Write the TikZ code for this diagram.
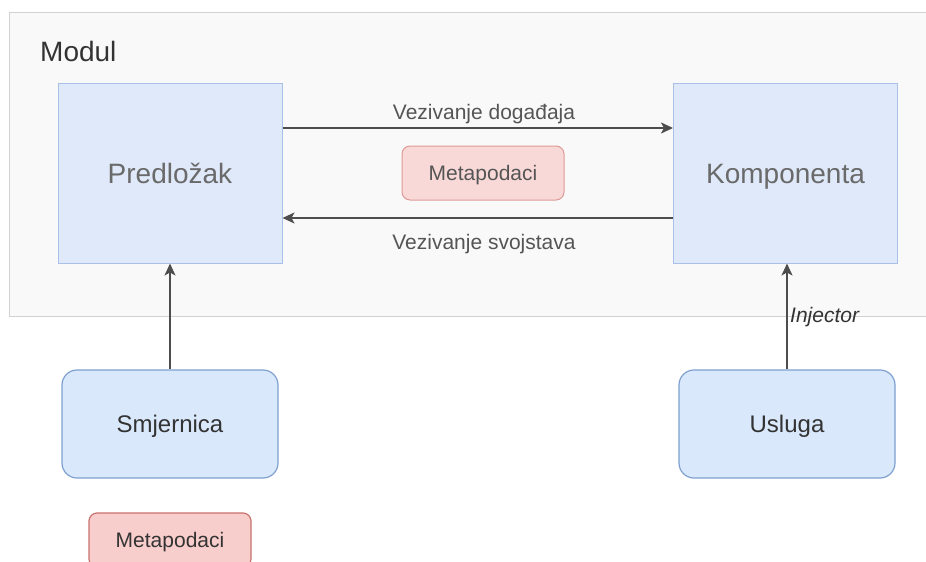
\documentclass[tikz,border=0pt]{standalone}
\usepackage{fontspec}
\setmainfont{Liberation Sans}
\usetikzlibrary{arrows.meta}
\definecolor{contfill}{HTML}{F9F9F9}
\definecolor{contline}{HTML}{D2D2D2}
\definecolor{bluefill}{HTML}{DFE9F9}
\definecolor{blueline}{HTML}{A9C1E8}
\definecolor{bluefillB}{HTML}{DAE8FC}
\definecolor{bluelineB}{HTML}{7FA0D0}
\definecolor{redfillA}{HTML}{F8D9D8}
\definecolor{redlineA}{HTML}{DE9A97}
\definecolor{redfillB}{HTML}{F8CECC}
\definecolor{redlineB}{HTML}{C9726E}
\definecolor{arrowc}{HTML}{4D4D4D}
\definecolor{lighttext}{HTML}{6A6A6A}
\definecolor{midtext}{HTML}{555555}
\definecolor{darktext}{HTML}{333333}
\tikzset{
  bigbox/.style={draw=blueline, fill=bluefill, line width=1pt, minimum width=224pt, minimum height=180pt, inner sep=0pt, text height=20pt, text depth=0pt, text=lighttext, font=\fontsize{28}{32}\selectfont},
  roundbox/.style={draw=bluelineB, fill=bluefillB, line width=1.2pt, rounded corners=15pt, minimum width=216pt, minimum height=108pt, inner sep=0pt, text height=17pt, text depth=0pt, text=darktext, font=\fontsize{24}{28}\selectfont},
  metaA/.style={draw=redlineA, fill=redfillA, line width=1pt, rounded corners=8pt, minimum width=162pt, minimum height=54pt, inner sep=0pt, text height=15pt, text depth=0pt, text=midtext, font=\fontsize{21}{25}\selectfont},
  metaB/.style={draw=redlineB, fill=redfillB, line width=1.2pt, rounded corners=8pt, minimum width=162pt, minimum height=54pt, inner sep=0pt, text height=15pt, text depth=0pt, text=darktext, font=\fontsize{21}{25}\selectfont},
  conn/.style={draw=arrowc, line width=1.7pt, -{Stealth[length=12pt,width=11pt,inset=3pt]}},
  edgelabel/.style={text=midtext, font=\fontsize{21}{25}\selectfont, inner sep=0pt, text height=15pt, text depth=0pt},
}
\begin{document}
\begin{tikzpicture}[x=1pt,y=-1pt]
\useasboundingbox (0,0) rectangle (926,562);
\clip (0,0) rectangle (926,562);
\fill[white] (0,0) rectangle (926,562);
% container
\node[draw=contline, fill=contfill, line width=1pt, minimum width=930pt, minimum height=304.5pt, inner sep=0pt, anchor=north west] (modul) at (9,11.5) {};
\node[anchor=west, inner sep=0pt, text height=20pt, text depth=0pt, text=darktext, font=\fontsize{28}{32}\selectfont] (modullabel) at (40,51) {Modul};
% main boxes
\node[bigbox] (pred) at (170,173) {Predložak};
\node[bigbox] (komp) at (785.5,173) {Komponenta};
\node[metaA] (meta1) at (483,173) {Metapodaci};
% horizontal connectors
\draw[conn] ([yshift=45pt]pred.east) -- ([yshift=45pt]komp.west);
\draw[conn] ([yshift=-45pt]komp.west) -- ([yshift=-45pt]pred.east);
\node[edgelabel] (lbl1) at (484,112) {Vezivanje događaja};
\node[edgelabel] (lbl2) at (484,242) {Vezivanje svojstava};
% lower boxes
\node[roundbox] (smj) at (170,424) {Smjernica};
\node[roundbox] (usl) at (787,424) {Usluga};
\node[metaB] (meta2) at (170,540) {Metapodaci};
% vertical connectors
\draw[conn] (smj.north) -- (smj.north |- pred.south);
\draw[conn] (usl.north) -- (usl.north |- komp.south);
\node[anchor=west, inner sep=0pt, text height=15pt, text depth=0pt, text=darktext, font=\fontsize{21}{25}\selectfont\itshape] (inj) at (790,315) {Injector};
\end{tikzpicture}
\end{document}
